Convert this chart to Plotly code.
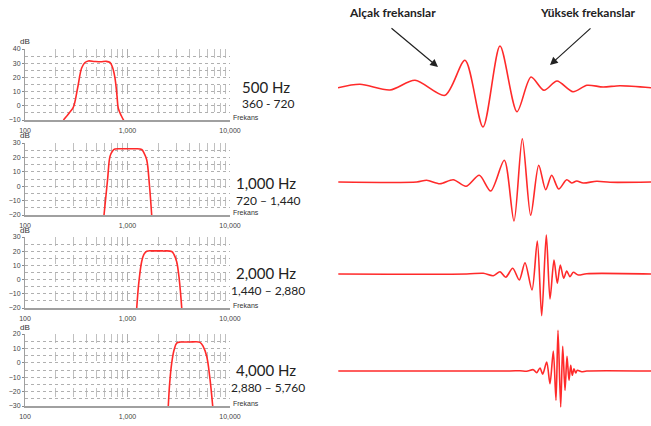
import plotly.graph_objects as go

W, H = 651, 426

# ---------- filter responses (frequency Hz, level dB) ----------
f500_freq = [237, 270, 296, 325, 357, 385, 415, 480, 550, 620, 675, 715, 755, 790, 813, 870, 925]
f500_db = [-10, -5, -1, 12, 26.6, 30.5, 31.6, 31.2, 31.0, 31.3, 30.5, 27, 19.5, 7, -1.7, -7, -10.7]

f1000_freq = [590, 640, 675, 715, 755, 850, 1000, 1200, 1374, 1450, 1539, 1640, 1722]
f1000_db = [-20, 5, 20.7, 24.5, 25.8, 26, 26, 26, 25.5, 23, 18.4, 0, -20]

f2000_freq = [1230, 1290, 1374, 1450, 1539, 1800, 2200, 2700, 2850, 3020, 3200, 3382]
f2000_db = [-20, -2, 12.6, 18, 20, 20.2, 20.2, 19.8, 17.5, 12.6, 0, -20]

f4000_freq = [2500, 2580, 2700, 2850, 3020, 3300, 4000, 5100, 5500, 5930, 6350, 6780]
f4000_db = [-30, -14, -0.2, 9, 13.7, 14.4, 14.4, 14.2, 11, 4.4, -10, -30]

panel_ranges = [(-10, 40), (-20, 30), (-20, 30), (-30, 20)]
center_labels = ["500 Hz", "1,000 Hz", "2,000 Hz", "4,000 Hz"]
band_labels = ["360 - 720", "720 – 1,440", "1,440 – 2,880", "2,880 – 5,760"]
x_tick_vals = [100, 1000, 10000]
x_tick_text = ["100", "1,000", "10,000"]

# ---------- time waveforms (sample position, amplitude) ----------
w1_t = [338, 360, 390, 415, 445, 465, 483, 500, 517, 531, 544, 557, 573, 587, 603, 620, 651]
w1_a = [-1.7, 1.7, -4, 5.7, -9.3, 25.7, -41, 40, -25.7, 9, -4.3, 5, -5.7, 0.7, -1, 0.3, -1.7]

w2_t = [338.3, 416.7, 426.7, 440, 453.3, 466, 479.3, 490.7, 504.3, 514, 522.3, 530.7, 538.7, 545.7,
        551.7, 558.7, 566.7, 571.7, 576.7, 583.3, 596.7, 610, 651]
w2_a = [0, 0, 1.7, -1.7, 2.3, -4.3, 6.7, -9, 21.7, -39, 43.3, -33.3, 16.7, -7.7,
        6.7, -7, 2.3, -1, 1, -1, 0.7, -0.3, 0]

w3_t = [338.3, 466.7, 483.3, 493.3, 500, 505.7, 512.7, 519.3, 525, 532, 537.3, 541.7, 546.3, 550,
        554, 557.3, 560.3, 563.7, 566.7, 570, 573.3, 578.3, 586.7, 651]
w3_a = [0, 0, 0.7, -1.7, 2.3, -3.3, 5.7, -6, 11.3, -16, 33, -41.7, 39, -25,
        14, -9.3, 9, -4.3, 3, -2.7, 1.7, -1, 0.3, 0]

w4_t = [338.3, 510, 520, 526.7, 533.3, 536.7, 540, 542.7, 546.7, 550, 553.3, 556, 558, 560.7,
        562.7, 565, 567, 569, 570.7, 572.3, 574, 575.7, 577.3, 581.7, 586.7, 651]
w4_a = [0, 0, 0.3, -0.3, 1.3, -1.7, 3, -3.3, 9, -12.7, 20, -29.3, 40.7, -36,
        24.7, -19.3, 14.7, -9.3, 5.7, -4.3, 2.3, -2, 0.7, -0.7, 0, 0]

filters = [(f500_freq, f500_db), (f1000_freq, f1000_db), (f2000_freq, f2000_db), (f4000_freq, f4000_db)]
waves = [(w1_t, w1_a), (w2_t, w2_a), (w3_t, w3_a), (w4_t, w4_a)]

# ---------- layout geometry (pixels) ----------
plot_x0, plot_x1 = 25, 230
panel_px = [(49, 120), (143, 215), (237, 308), (334, 406)]
wave_base = [86, 182, 274, 371]
wave_half = 47
label_y = [87, 183, 273, 370]

def py(p):
    return 1 - p / H

def px(p):
    return p / W

fig = go.Figure()
layout = dict(width=W, height=H, margin=dict(l=0, r=0, t=0, b=0, autoexpand=False),
              paper_bgcolor="white", plot_bgcolor="white", showlegend=False)
annotations = []
red = "#ff2a2a"
grid = "#b0b0b0"
tickfont = dict(family="Liberation Sans", size=7, color="#444")

minor_x = [v * m for v in (100, 1000) for m in range(2, 10)]

for i, ((fq, db), (t, a)) in enumerate(zip(filters, waves)):
    n = i + 1
    xa = "x" if n == 1 else f"x{n}"
    ya = "y" if n == 1 else f"y{n}"
    lo, hi = panel_ranges[i]
    top, bot = panel_px[i]
    fig.add_trace(go.Scatter(x=fq, y=db, mode="lines", xaxis=xa, yaxis=ya,
                             line=dict(color=red, width=1.6, shape="spline", smoothing=1.0),
                             hoverinfo="skip"))
    layout[f"xaxis{'' if n == 1 else n}"] = dict(
        domain=[px(plot_x0), px(plot_x1)], anchor=ya, type="log", range=[2, 4],
        tickmode="array", tickvals=x_tick_vals, ticktext=x_tick_text, tickfont=tickfont,
        showgrid=True, gridcolor=grid, griddash="dash", gridwidth=1, automargin=False,
        minor=dict(tickmode="array", tickvals=minor_x, showgrid=True, gridcolor="#c0c0c0",
                   griddash="dash", gridwidth=1),
        showline=True, linecolor="#a0a0a0", linewidth=2, zeroline=False, ticks="",
        ticklabelstandoff=3)
    layout[f"yaxis{'' if n == 1 else n}"] = dict(
        domain=[py(bot), py(top)], anchor=xa, range=[lo, hi], automargin=False,
        tickmode="linear", tick0=lo, dtick=10, tickfont=tickfont,
        showgrid=True, gridcolor=grid, griddash="dot", gridwidth=1,
        minor=dict(dtick=5, tick0=lo, showgrid=True, gridcolor=grid, griddash="dot", gridwidth=1),
        showline=True, linecolor="#a0a0a0", linewidth=1, zeroline=False,
        ticks="outside", ticklen=2, tickcolor="#888")
    # waveform
    m = n + 4
    fig.add_trace(go.Scatter(x=t, y=a, mode="lines", xaxis=f"x{m}", yaxis=f"y{m}",
                             line=dict(color=red, width=1.6, shape="spline", smoothing=0.8),
                             hoverinfo="skip"))
    base = wave_base[i]
    layout[f"xaxis{m}"] = dict(domain=[px(338), 1], anchor=f"y{m}", range=[338, 651],
                               visible=False, automargin=False)
    layout[f"yaxis{m}"] = dict(domain=[py(base + wave_half), py(base - wave_half)], anchor=f"x{m}",
                               range=[-wave_half, wave_half], visible=False, automargin=False)
    # labels
    annotations.append(dict(x=px(18), y=py(top - 7), xref="paper", yref="paper", text="dB",
                            showarrow=False, xanchor="left", yanchor="middle",
                            font=dict(family="Liberation Sans", size=8, color="#333")))
    annotations.append(dict(x=px(231), y=py(bot - 3), xref="paper", yref="paper", text="Frekans",
                            showarrow=False, xanchor="left", yanchor="middle",
                            font=dict(family="Liberation Sans", size=7, color="#333")))
    annotations.append(dict(x=px(266), y=py(label_y[i]), xref="paper", yref="paper",
                            text=center_labels[i], showarrow=False, xanchor="center", yanchor="middle",
                            font=dict(family="Lato", size=15, color="#222")))
    annotations.append(dict(x=px(268), y=py(label_y[i] + 17), xref="paper", yref="paper",
                            text=band_labels[i], showarrow=False, xanchor="center", yanchor="middle",
                            font=dict(family="Lato", size=12, color="#222")))

annotations.append(dict(x=px(392), y=py(13), xref="paper", yref="paper", text="<b>Alçak frekanslar</b>",
                        showarrow=False, xanchor="center", yanchor="middle",
                        font=dict(family="Lato", size=12, color="#222")))
annotations.append(dict(x=px(588), y=py(13), xref="paper", yref="paper", text="<b>Yüksek frekanslar</b>",
                        showarrow=False, xanchor="center", yanchor="middle",
                        font=dict(family="Lato", size=12, color="#222")))
annotations.append(dict(x=px(438), y=py(67), xref="paper", yref="paper", text="", showarrow=True,
                        ax=-48, ay=-40, arrowhead=2, arrowsize=1.3, arrowwidth=1.2, arrowcolor="#222"))
annotations.append(dict(x=px(550), y=py(65), xref="paper", yref="paper", text="", showarrow=True,
                        ax=42, ay=-38, arrowhead=2, arrowsize=1.3, arrowwidth=1.2, arrowcolor="#222"))

layout["annotations"] = annotations
fig.update_layout(**layout)
fig.write_html("out.html", config={"displayModeBar": False},
               post_script="document.body.style.margin='0';document.body.style.overflow='hidden';")
